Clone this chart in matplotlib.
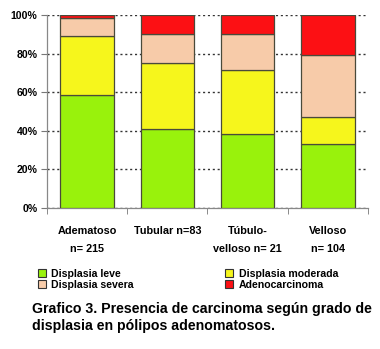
import numpy as np
import matplotlib
matplotlib.use("Agg")
import matplotlib.pyplot as plt
from matplotlib.patches import Patch

# data (percent of each group)
categories = ["Adematoso\nn= 215", "Tubular n=83", "Túbulo-\nvelloso n= 21", "Velloso\nn= 104"]
leve = [58.6, 41.0, 38.1, 33.3]
moderada = [30.7, 34.0, 33.3, 14.1]
severa = [9.0, 15.3, 19.0, 31.7]
adeno = [1.7, 9.7, 9.6, 20.9]

series = [
    ("Displasia leve", leve, "#99F20C"),
    ("Displasia moderada", moderada, "#F6F61C"),
    ("Displasia severa", severa, "#F7CBA9"),
    ("Adenocarcinoma", adeno, "#FC1014"),
]

plt.rcParams["font.family"] = ["Liberation Sans", "DejaVu Sans"]
plt.rcParams["font.weight"] = "bold"

fig = plt.figure(figsize=(3.8, 3.49), dpi=100)
ax = fig.add_axes([0.124, 0.404, 0.844, 0.553])

x = np.arange(len(categories))
bottom = np.zeros(len(categories))
handles = {}
for name, vals, color in series:
    ax.bar(x, vals, width=0.67, bottom=bottom, color=color,
           edgecolor="#4a4a3a", linewidth=0.9, zorder=3)
    handles[name] = Patch(facecolor=color, edgecolor="#333333", linewidth=0.8)
    bottom += np.array(vals)

ax.set_xlim(-0.5, len(categories) - 0.5)
ax.set_ylim(0, 100)
ax.set_yticks(np.arange(0, 101, 20))
ax.set_yticklabels([f"{v}%" for v in range(0, 101, 20)], fontsize=7.6, fontweight="bold")
ax.yaxis.grid(True, linestyle=(0, (1.5, 2.0)), color="#333333", linewidth=1.0, zorder=0)

ax.set_xticks(x)
ax.set_xticklabels(categories, fontsize=7.8, fontweight="bold", linespacing=2.0)
ax.set_xticks(np.arange(-0.5, len(categories)), minor=True)
ax.tick_params(axis="x", which="major", length=0, pad=13)
ax.tick_params(axis="x", which="minor", length=4, color="#777777", direction="out")
ax.tick_params(axis="y", length=4, color="#777777", pad=3)

for s in ["top", "right"]:
    ax.spines[s].set_visible(False)
for s in ["left", "bottom"]:
    ax.spines[s].set_color("#888888")
    ax.spines[s].set_linewidth(0.9)

order = ["Displasia leve", "Displasia severa", "Displasia moderada", "Adenocarcinoma"]
fig.legend([handles[n] for n in order], order, ncol=2, loc="upper left",
           bbox_to_anchor=(0.088, 0.242), frameon=False, fontsize=7.6,
           handlelength=0.8, handleheight=0.8, handletextpad=0.5,
           columnspacing=8.6, labelspacing=0.12, borderaxespad=0)

fig.text(0.085, 0.09, "Grafico 3. Presencia de carcinoma según grado de\ndisplasia en pólipos adenomatosos.",
         fontsize=10.2, fontweight="bold", ha="left", va="center", linespacing=1.2)

fig.savefig("out.png", dpi=100)
